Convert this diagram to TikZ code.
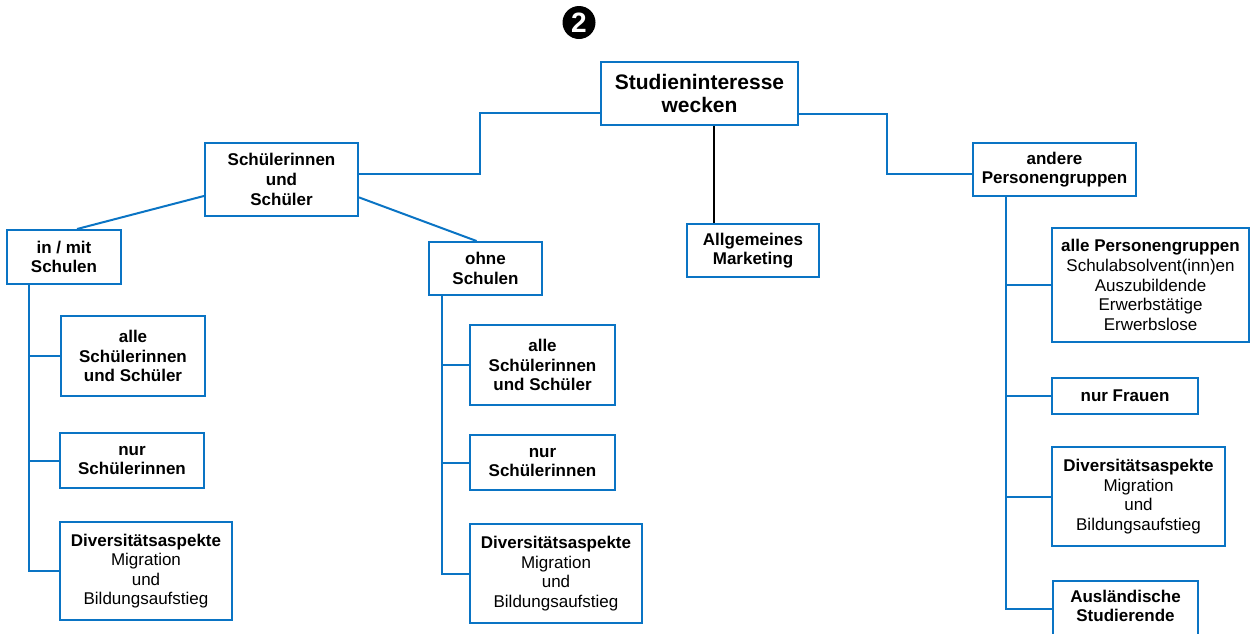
\documentclass[tikz,border=0pt]{standalone}
\usepackage{fontspec}
\setmainfont{Liberation Sans}
\definecolor{lineblue}{HTML}{0A74C4}
\tikzset{
  box/.style={draw=lineblue, line width=1pt, align=center, inner sep=2pt,
    font=\fontsize{8.5}{9.8}\selectfont\bfseries},
  mixed/.style={font=\fontsize{8.5}{9.8}\selectfont},
  sz/.style 2 args={minimum width=#1pt, minimum height=#2pt},
  link/.style={draw=lineblue, line width=1pt},
}
\begin{document}
\begin{tikzpicture}[x=0.5pt, y=-0.5pt]
      \useasboundingbox (0,0) rectangle (1251,633);
      \clip (0,0) rectangle (1251,633);
      \node[circle, fill=black, text=white, minimum size=16.5pt, inner sep=0pt,
        font=\fontsize{14}{14}\selectfont\bfseries] (nr) at (579,22.5) {2};
      \draw
        (699.5,93.5) node[box, sz={98.5}{31.5}, font=\fontsize{10.5}{11.7}\selectfont\bfseries] (main){Studieninteresse\\wecken}
        (281.5,179.5) node[box, sz={76.5}{36.5}] (schueler){Schülerinnen\\und\\Schüler}
        (1054.5,169.5) node[box, sz={81.5}{26.5}] (andere){andere\\Personengruppen}
        (753,250.5) node[box, sz={66}{26.5}] (marketing){Allgemeines\\Marketing}
        (64,257) node[box, sz={57}{27}] (inmit){in / mit\\Schulen}
        (485.5,268.5) node[box, sz={56.5}{26.5}] (ohne){ohne\\Schulen}
        (133,356) node[box, sz={72}{40}] (alleL){alle\\Schülerinnen\\und Schüler}
        (132,460.5) node[box, sz={72}{27.5}] (nurL){nur\\Schülerinnen}
        (146,571) node[box, mixed, sz={86}{49}] (divL){\textbf{Diversitätsaspekte}\\Migration\\und\\Bildungsaufstieg}
        (542.5,365) node[box, sz={72.5}{40}] (alleM){alle\\Schülerinnen\\und Schüler}
        (542.5,462.5) node[box, sz={72.5}{27.5}] (nurM){nur\\Schülerinnen}
        (556,573.5) node[box, mixed, sz={86}{49.5}] (divM){\textbf{Diversitätsaspekte}\\Migration\\und\\Bildungsaufstieg}
        (1150.5,285) node[box, mixed, sz={98.5}{57}] (alleR){\textbf{alle Personengruppen}\\Schulabsolvent(inn)en\\Auszubildende\\Erwerbstätige\\Erwerbslose}
        (1125,396) node[box, sz={73}{18}] (frauen){nur Frauen}
        (1138.5,496.5) node[box, mixed, sz={86.5}{49.5}] (divR){\textbf{Diversitätsaspekte}\\Migration\\und\\Bildungsaufstieg}
        (1125.5,580) node[box, sz={72.5}{0}, anchor=north] (ausl){\rule{0pt}{8.5pt}Ausländische\\Studierende\rule[-14pt]{0pt}{0pt}};
      % knee points and trunks
      \coordinate (kL) at (480,113);
      \coordinate (kL2) at (480,174);
      \coordinate (kR) at (887,114);
      \coordinate (kR2) at (887,174);
      \coordinate (kM) at (714,0);
      \coordinate (tL) at (29,0);
      \coordinate (tM) at (442.3,0);
      \coordinate (tR) at (1006,0);
      \coordinate (tRend) at (0,609);
      \begin{scope}[link]
        \draw (main.west |- kL) -- (kL) -- (kL2) -- (schueler.east |- kL2);
        \draw (main.east |- kR) -- (kR) -- (kR2) -- (andere.west |- kR2);
        \draw (schueler.192) -- (inmit.65);
        \draw (schueler.-13) -- (ohne.108);
        \draw (inmit.south -| tL) |- (divL.west);
        \draw (tL |- alleL.west) -- (alleL.west);
        \draw (tL |- nurL.west) -- (nurL.west);
        \draw (ohne.south -| tM) |- (divM.west);
        \draw (tM |- alleM.west) -- (alleM.west);
        \draw (tM |- nurM.west) -- (nurM.west);
        \draw (andere.south -| tR) |- (ausl.west |- tRend);
        \draw (tR |- alleR.west) -- (alleR.west);
        \draw (tR |- frauen.west) -- (frauen.west);
        \draw (tR |- divR.west) -- (divR.west);
      \end{scope}
      \draw[black, line width=0.7pt] (main.south -| kM) -- (marketing.north -| kM);
    \end{tikzpicture}
\end{document}
